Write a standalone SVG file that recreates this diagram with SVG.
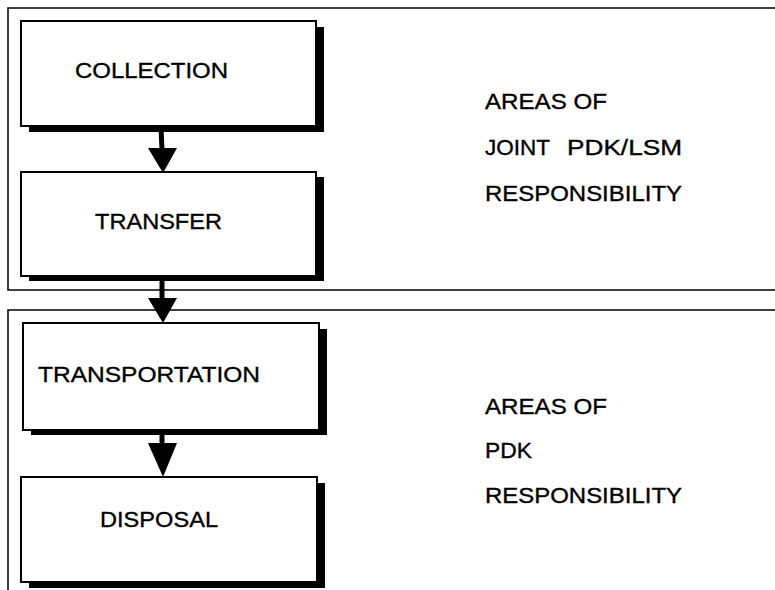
<svg xmlns="http://www.w3.org/2000/svg" width="775" height="590" viewBox="0 0 775 590">
  <style>
    .frame { fill: none; stroke: #000; stroke-width: 1.5; }
    .shadow { fill: #000; }
    .box { fill: #fff; stroke: #000; stroke-width: 2; }
    .lbl { font-family: "Liberation Sans", Arial, Helvetica, sans-serif; font-size: 22.5px; fill: #000; stroke: #000; stroke-width: 0.35; }
    .note { font-family: "Liberation Sans", Arial, Helvetica, sans-serif; font-size: 21.5px; fill: #000; stroke: #000; stroke-width: 0.35; }
    .shaft { stroke: #000; stroke-width: 5; fill: none; }
    .head { fill: #000; }
  </style>

  <!-- Responsibility areas -->
  <g id="area-joint">
    <path class="frame" d="M775,8 H8 V290 H775"/>
    <text class="note" x="485" y="109" textLength="122" lengthAdjust="spacingAndGlyphs">AREAS OF</text>
    <text class="note" x="485" y="155" textLength="65" lengthAdjust="spacingAndGlyphs">JOINT</text>
    <text class="note" x="567" y="155" textLength="115" lengthAdjust="spacingAndGlyphs">PDK/LSM</text>
    <text class="note" x="485" y="201" textLength="197" lengthAdjust="spacingAndGlyphs">RESPONSIBILITY</text>
  </g>
  <g id="area-pdk">
    <path class="frame" d="M775,310 H8 V590"/>
    <text class="note" x="485" y="414" textLength="122" lengthAdjust="spacingAndGlyphs">AREAS OF</text>
    <text class="note" x="485" y="458" textLength="47" lengthAdjust="spacingAndGlyphs">PDK</text>
    <text class="note" x="485" y="503" textLength="197" lengthAdjust="spacingAndGlyphs">RESPONSIBILITY</text>
  </g>

  <!-- Process steps -->
  <g id="collection">
    <rect class="shadow" x="29" y="27" width="295" height="105"/>
    <rect class="box" x="21" y="21" width="295" height="105"/>
    <text class="lbl" x="75" y="78" textLength="153" lengthAdjust="spacingAndGlyphs">COLLECTION</text>
  </g>
  <g id="transfer">
    <rect class="shadow" x="29" y="177" width="295" height="104"/>
    <rect class="box" x="21" y="172" width="295" height="104"/>
    <text class="lbl" x="95" y="229" textLength="127" lengthAdjust="spacingAndGlyphs">TRANSFER</text>
  </g>
  <g id="transportation">
    <rect class="shadow" x="31" y="329" width="296" height="106"/>
    <rect class="box" x="23" y="323" width="296" height="107"/>
    <text class="lbl" x="38" y="382" textLength="222" lengthAdjust="spacingAndGlyphs">TRANSPORTATION</text>
  </g>
  <g id="disposal">
    <rect class="shadow" x="29" y="483" width="296" height="105"/>
    <rect class="box" x="21" y="477" width="296" height="105"/>
    <text class="lbl" x="100" y="527" textLength="118" lengthAdjust="spacingAndGlyphs">DISPOSAL</text>
  </g>

  <!-- Flow arrows -->
  <g id="connectors">
    <line class="shaft" x1="161" y1="127" x2="162" y2="150"/>
    <polygon class="head" points="148,148 177,148 163,173"/>
    <line class="shaft" x1="162" y1="277" x2="162" y2="300"/>
    <polygon class="head" points="148,298 177,298 163,323"/>
    <line class="shaft" x1="162" y1="431" x2="162" y2="445"/>
    <polygon class="head" points="148,443 177,443 163,477"/>
  </g>
</svg>
